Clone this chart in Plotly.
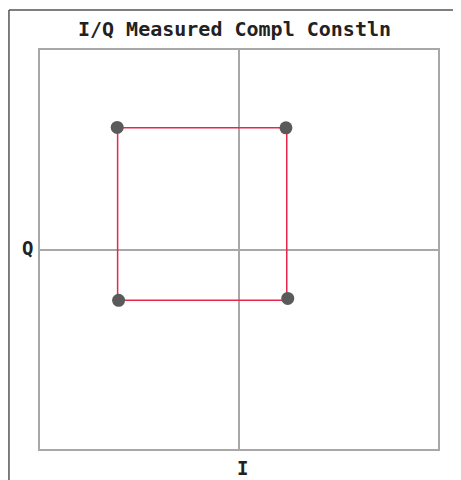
import plotly.graph_objects as go

# trajectory (I, Q) joining the four symbols
i_vals = [-0.61, 0.24, 0.24, -0.61, -0.61]
q_vals = [0.61, 0.61, -0.255, -0.255, 0.61]
# measured symbol clusters
sym_i = [-0.612, 0.236, 0.245, -0.605]
sym_q = [0.612, 0.61, -0.245, -0.255]

TITLE = "I/Q Measured Compl Constln"

fig = go.Figure()

fig.add_trace(go.Scatter(
    x=i_vals, y=q_vals, mode="lines",
    line=dict(color="#e8264a", width=1.5),
    hoverinfo="skip",
))

fig.add_trace(go.Scatter(
    x=sym_i, y=sym_q, mode="markers",
    marker=dict(color="#5a5a5a", size=13, symbol="circle"),
))

axis_style = dict(
    range=[-1, 1], showticklabels=False, ticks="",
    showgrid=False, zeroline=True, zerolinecolor="#a8a8a8", zerolinewidth=2,
    showline=True, linecolor="#a8a8a8", linewidth=2, mirror=True,
    fixedrange=True,
)
fig.update_xaxes(**axis_style)
fig.update_yaxes(**axis_style)

# page has an 8px body margin, so the figure is sized to fit the window
fig.update_layout(
    width=453, height=472,
    margin=dict(l=32, r=23, t=42, b=31),
    paper_bgcolor="white", plot_bgcolor="white",
    showlegend=False,
    title=dict(
        text=f"<b>{TITLE}</b>", x=0.5, xanchor="center", y=0.955, yanchor="middle",
        font=dict(family="DejaVu Sans Mono", size=20, color="#222"),
    ),
    annotations=[
        dict(text="<b>Q</b>", xref="paper", yref="paper", x=-0.012, y=0.505,
             xanchor="right", yanchor="middle", showarrow=False,
             font=dict(family="DejaVu Sans Mono", size=19, color="#222")),
        dict(text="<b>I</b>", xref="paper", yref="paper", x=0.51, y=-0.015,
             xanchor="center", yanchor="top", showarrow=False,
             font=dict(family="DejaVu Sans Mono", size=19, color="#222")),
    ],
    shapes=[
        # outer frame (left and top edges visible in the reference)
        dict(type="line", xref="paper", yref="paper", x0=-0.078, x1=-0.078, y0=1.1, y1=-0.08,
             line=dict(color="#555", width=1.5)),
        dict(type="line", xref="paper", yref="paper", x0=-0.078, x1=1.06, y0=1.1, y1=1.1,
             line=dict(color="#555", width=1.5)),
    ],
)

fig.write_html("out.html")
